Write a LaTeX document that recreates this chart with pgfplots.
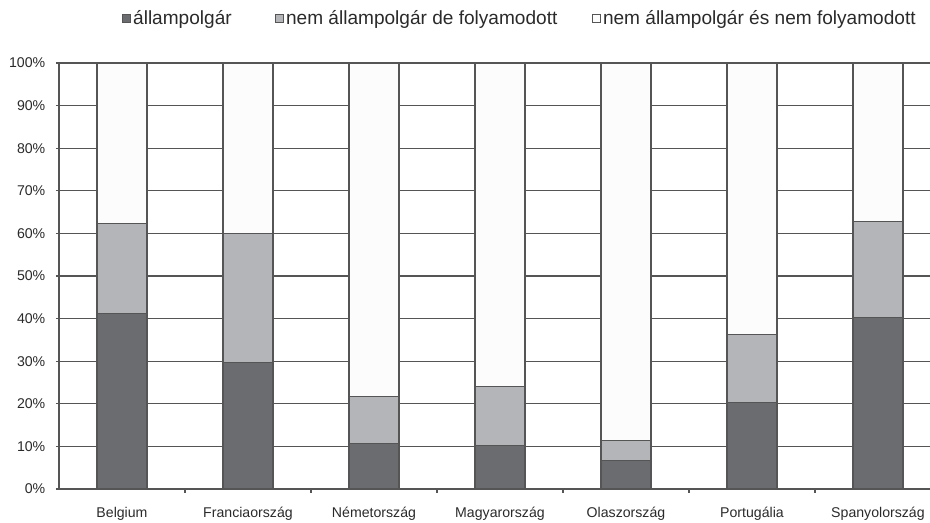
\documentclass[border=0pt]{standalone}
\usepackage{pgfplots}
\pgfplotsset{compat=1.18}
\usepackage{fontspec}
\setmainfont{Liberation Sans}
\definecolor{cA}{HTML}{6B6C70}
\definecolor{cB}{HTML}{B4B5B8}
\definecolor{cC}{HTML}{FCFCFC}
\definecolor{gridc}{HTML}{555555}
\definecolor{txt}{HTML}{2A2A2A}
\begin{document}
\begin{tikzpicture}
\begin{axis}[
  at={(0,0)}, anchor=south west,
  scale only axis, width=653.25pt, height=319.5pt,
  ybar stacked, bar width=37.5pt,
  xmin=-0.5, xmax=6.413, ymin=0, ymax=100,
  xtick={0,1,2,3,4,5,6},
  xticklabels={Belgium,Franciaország,Németország,Magyarország,Olaszország,Portugália,Spanyolország},
  minor xtick={0.5,1.5,2.5,3.5,4.5,5.5},
  major x tick style={draw=none},
  minor tick length=3pt,
  major tick length=2.25pt,
  tick align=outside,
  tick style={gridc, line width=0.9pt},
  ytick={0,10,...,100},
  yticklabels={0\%,10\%,20\%,30\%,40\%,50\%,60\%,70\%,80\%,90\%,100\%},
  ymajorgrids,
  grid style={gridc, line width=0.9pt},
  axis x line*=bottom, axis y line*=left,
  axis line style={gridc, line width=0.9pt, -},
  ticklabel style={font=\fontsize{10.6}{12}\selectfont, text=txt},
  yticklabel style={xshift=-4.5pt},
  xticklabel style={yshift=-8pt},
  legend image code/.code={\draw[#1, draw=gridc, line width=0.7pt] (0pt,-3pt) rectangle (6pt,3pt);},
  legend style={draw=none, fill=none, at={(0.0723,1.1056)}, anchor=west,
    legend columns=3, inner sep=0pt, font=\fontsize{14.3}{16}\selectfont, text=txt,
    /tikz/every even column/.style={column sep=0pt},
    /tikz/every odd column/.style={column sep=0pt},
    nodes={inner xsep=1.5pt, inner ysep=1pt}},
  legend cell align=left,
]
\addplot+[fill=cA, draw=gridc, line width=0.8pt] coordinates {(0,41.2) (1,29.7) (2,10.7) (3,10.3) (4,6.6) (5,20.3) (6,40.2)};
\addplot+[fill=cB, draw=gridc, line width=0.8pt] coordinates {(0,21.2) (1,30.3) (2,11.1) (3,13.7) (4,4.7) (5,16.0) (6,22.5)};
\addplot+[fill=cC, draw=gridc, line width=0.8pt] coordinates {(0,37.6) (1,40.0) (2,78.2) (3,76.0) (4,88.7) (5,63.7) (6,37.3)};
\legend{\makebox[105pt][l]{állampolgár},\makebox[228pt][l]{nem állampolgár de folyamodott},nem állampolgár és nem folyamodott}
\end{axis}
\pgfresetboundingbox
\path (-44.25pt,-25.5pt) rectangle (653.25pt,366.75pt);
\end{tikzpicture}
\end{document}
